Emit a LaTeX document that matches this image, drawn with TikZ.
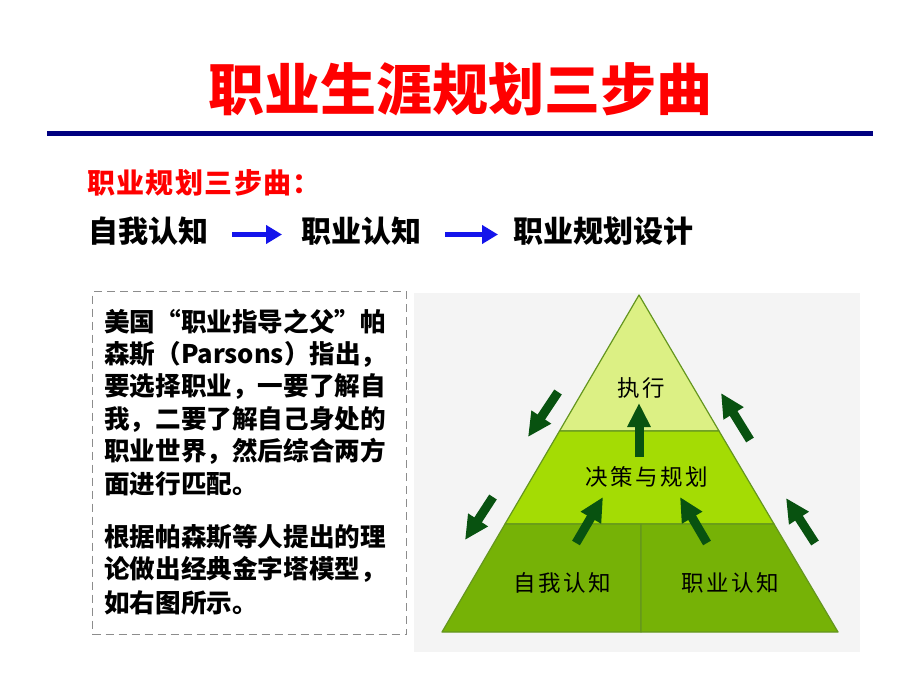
\documentclass[tikz,border=0pt]{standalone}
\usepackage{fontspec}
\newfontfamily\cjk{Noto Sans CJK SC}
\usetikzlibrary{arrows.meta}
\definecolor{navyline}{RGB}{0,0,128}
\definecolor{titlered}{RGB}{255,0,0}
\definecolor{flowblue}{RGB}{20,20,235}
\definecolor{boxgray}{RGB}{140,140,140}
\definecolor{panelbg}{RGB}{244,244,244}
\definecolor{layertop}{RGB}{220,240,132}
\definecolor{layermid}{RGB}{164,220,4}
\definecolor{layerbot}{RGB}{118,178,6}
\definecolor{pyrline}{RGB}{100,150,30}
\definecolor{arrowgreen}{RGB}{8,82,16}
\tikzset{
  titletext/.style={font=\cjk\bfseries\fontsize{56}{60}\selectfont, text=titlered, inner sep=0pt},
  subtext/.style={font=\cjk\bfseries\fontsize{28}{30}\selectfont\addfontfeature{LetterSpace=5}, text=titlered, anchor=west, inner sep=0pt},
  flowtext/.style={font=\cjk\bfseries\fontsize{30}{32}\selectfont, text=black, anchor=west, inner sep=0pt},
  flowarrow/.style={draw=flowblue, line width=5.5pt, -{Triangle[width=18pt,length=16pt]}},
  boxline/.style={font=\cjk\bfseries\fontsize{25.6}{28}\selectfont, text=black, anchor=west, inner sep=0pt},
  pyrlabel/.style={font=\cjk\fontsize{22.5}{26}\selectfont\addfontfeature{LetterSpace=11}, text=black, inner sep=0pt},
  bigarrow/.style={draw=arrowgreen, line width=9pt, -{Triangle[width=22pt,length=24pt]}},
  layer/.style={draw=pyrline, line width=1.2pt, line join=round}
}
\begin{document}
\begin{tikzpicture}[x=1pt,y=-1pt]
\useasboundingbox (0,0) rectangle (920,690);
\fill[white] (0,0) rectangle (920,690);

% title
\node[titletext] (title) at (460,89) {职业生涯规划三步曲};
\coordinate (ruleL) at (47,133);
\coordinate (ruleR) at (873,133);
\draw[navyline, line width=5pt] (ruleL) -- (ruleR);

% subtitle and flow
\node[subtext] (sub) at (87,183) {职业规划三步曲：};
\node[flowtext] (s1) at (88,231) {自我认知};
\node[flowtext] (s2) at (301,231) {职业认知};
\node[flowtext] (s3) at (513,231) {职业规划设计};
\draw[flowarrow] ([xshift=24pt,yshift=-3.5pt]s1.east) -- ([xshift=-19pt,yshift=-3.5pt]s2.west);
\draw[flowarrow] ([xshift=24pt,yshift=-3.5pt]s2.east) -- ([xshift=-15pt,yshift=-3.5pt]s3.west);

% dashed text box
\node[draw=boxgray, dash pattern=on 8pt off 5pt, line width=1.3pt, minimum width=314pt, minimum height=343pt, anchor=north west, inner sep=0pt] (box) at (92,291) {};
\node[boxline] (b1) at (104,322) {美国“职业指导之父”帕};
\node[boxline] (b2) at (104,354) {森斯（Parsons）指出，};
\node[boxline] (b3) at (104,387) {要选择职业，一要了解自};
\node[boxline] (b4) at (104,419) {我，二要了解自己身处的};
\node[boxline] (b5) at (104,451) {职业世界，然后综合两方};
\node[boxline] (b6) at (104,484) {面进行匹配。};
\node[boxline] (b7) at (104,537) {根据帕森斯等人提出的理};
\node[boxline] (b8) at (104,569) {论做出经典金字塔模型，};
\node[boxline] (b9) at (104,603) {如右图所示。};

% pyramid panel
\fill[panelbg] (414,293) rectangle (860,652);
\coordinate (apex) at (639,295);
\coordinate (tl) at (559.5,431);
\coordinate (tr) at (719,431);
\coordinate (ml) at (505,524);
\coordinate (mr) at (774,524);
\coordinate (mc) at (641,524);
\coordinate (bl) at (442,632);
\coordinate (br) at (838,632);
\coordinate (bc) at (641,632);
\filldraw[layer, fill=layertop] (apex) -- (tr) -- (tl) -- cycle;
\filldraw[layer, fill=layermid] (tl) -- (tr) -- (mr) -- (ml) -- cycle;
\filldraw[layer, fill=layerbot] (ml) -- (mc) -- (bc) -- (bl) -- cycle;
\filldraw[layer, fill=layerbot] (mc) -- (mr) -- (br) -- (bc) -- cycle;

\node[pyrlabel] (exec) at (641,388) {执行};
\node[pyrlabel] (plan) at (647,477) {决策与规划};
\node[pyrlabel] (self) at (562,583) {自我认知};
\node[pyrlabel] (job) at (730,583) {职业认知};

% arrows
\coordinate (c1) at (639,457); \coordinate (c2) at (639,403);
\coordinate (l1) at (576,543); \coordinate (l2) at (603,497);
\coordinate (r1) at (707,543); \coordinate (r2) at (680,497);
\coordinate (ou1) at (558,392); \coordinate (ou2) at (528,437);
\coordinate (od1) at (493,497); \coordinate (od2) at (465,540);
\coordinate (pu1) at (750,440); \coordinate (pu2) at (721,393);
\coordinate (pd1) at (815,543); \coordinate (pd2) at (786,498);
\draw[bigarrow] (c1) -- (c2);
\draw[bigarrow] (l1) -- (l2);
\draw[bigarrow] (r1) -- (r2);
\draw[bigarrow] (ou1) -- (ou2);
\draw[bigarrow] (od1) -- (od2);
\draw[bigarrow] (pu1) -- (pu2);
\draw[bigarrow] (pd1) -- (pd2);
\end{tikzpicture}
\end{document}
